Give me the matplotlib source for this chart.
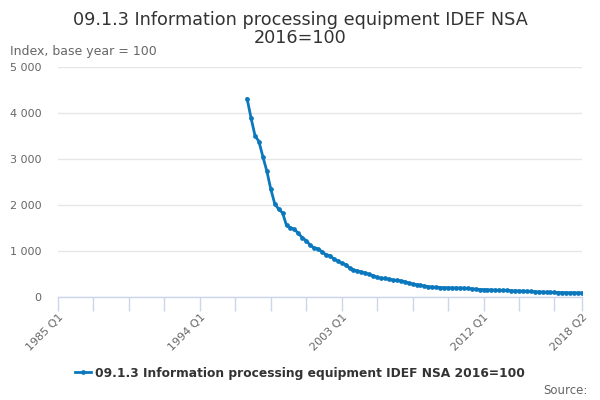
import matplotlib
matplotlib.use("Agg")
import matplotlib.pyplot as plt
import numpy as np
from matplotlib.lines import Line2D

title = "09.1.3 Information processing equipment IDEF NSA\n2016=100"
series_name = "09.1.3 Information processing equipment IDEF NSA 2016=100"
y_axis_title = "Index, base year = 100"

start_year, start_q = 1985, 1
end_year, end_q = 2018, 2
quarters = [f"{y} Q{q}" for y in range(start_year, end_year + 1) for q in range(1, 5)]
quarters = quarters[: quarters.index(f"{end_year} Q{end_q}") + 1]

first_label = "1997 Q1"
observed = [
    4310, 3890, 3510, 3380, 3050, 2740, 2350, 2030, 1910, 1830,
    1555, 1507, 1471, 1384, 1290, 1225, 1130, 1065, 1051, 986,
    920, 899, 830, 785, 736, 705, 630, 590, 565, 543,
    522, 493, 464, 425, 408, 406, 384, 370, 362, 352,
    333, 304, 283, 268, 254, 239, 225, 217, 210, 205,
    203, 202, 200, 198, 196, 193, 185, 176, 168, 163,
    160, 158, 156, 153, 150, 147, 143, 140, 136, 132,
    128, 124, 120, 116, 112, 108, 104, 101, 99, 96,
    95, 94, 93, 92, 91, 90,
]
labelled_ticks = ["1985 Q1", "1994 Q1", "2003 Q1", "2012 Q1", "2018 Q2"]
y_ticks = [0, 1000, 2000, 3000, 4000, 5000]

n = len(quarters)
start = quarters.index(first_label)
values = np.full(n, np.nan)
values[start:start + len(observed)] = observed
x = np.arange(n)

color = "#0b78be"
fig = plt.figure(figsize=(6, 4), dpi=100)
ax = fig.add_axes([58 / 600, 1 - 297 / 400, (582 - 58) / 600, (297 - 67) / 400])

ax.plot(x, values, color=color, lw=2, marker="o", ms=2.4, zorder=3)

ax.set_xlim(0, n - 1)
ax.set_ylim(0, 5000)
ax.set_yticks(y_ticks)
ax.set_yticklabels([f"{v:,}".replace(",", " ") for v in y_ticks], color="#666666", fontsize=8)
ax.tick_params(axis="y", length=0, pad=12)
for label in ax.get_yticklabels():
    label.set_horizontalalignment("right")
ax.grid(axis="y", color="#e6e6e6", lw=1)
ax.set_axisbelow(True)

tick_pos = list(range(0, n, 9))
if tick_pos[-1] != n - 1:
    tick_pos.append(n - 1)
ax.set_xticks(tick_pos)
ax.set_xticklabels([quarters[i] if quarters[i] in labelled_ticks else "" for i in tick_pos],
                   rotation=45, ha="right", rotation_mode="anchor", color="#666666", fontsize=8)
ax.tick_params(axis="x", length=10, color="#ccd6eb", width=1, pad=1)

for s in ["top", "right", "left"]:
    ax.spines[s].set_visible(False)
ax.spines["bottom"].set_color("#ccd6eb")
ax.spines["bottom"].set_linewidth(1)

fig.text(0.5, 1 - 29 / 400, title, ha="center", va="center", fontsize=12.7, color="#333333",
         linespacing=1.05)
fig.text(10 / 600, 1 - 52 / 400, y_axis_title, ha="left", va="center", fontsize=9, color="#666666")

handle = Line2D([0], [0], color=color, lw=2, marker="o", ms=2.4)
fig.legend([handle], [series_name], loc="center", bbox_to_anchor=(0.5, 1 - 373 / 400),
           frameon=False, handlelength=1.3, handletextpad=0.4,
           prop={"weight": "bold", "size": 8.8})
for t in fig.legends[0].get_texts():
    t.set_color("#333333")
fig.text(588 / 600, 1 - 390 / 400, "Source:", ha="right", va="center", fontsize=8.5, color="#666666")

fig.savefig("out.png", dpi=100)
